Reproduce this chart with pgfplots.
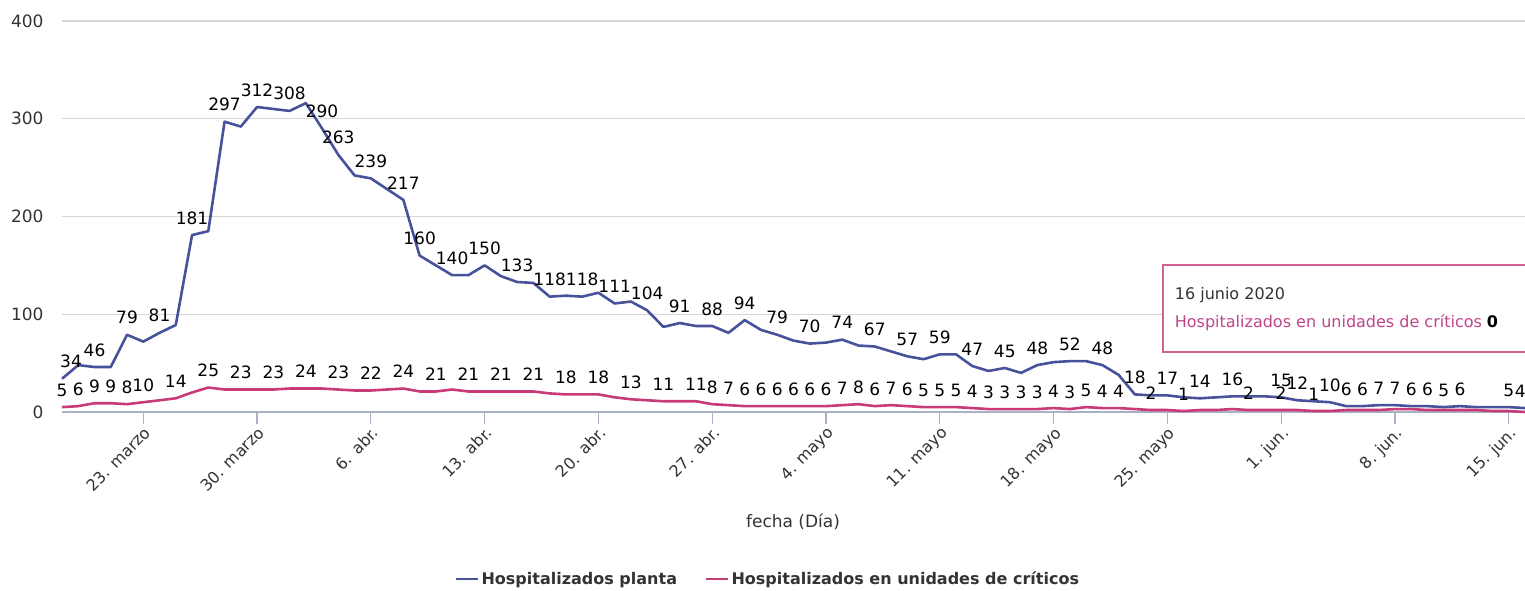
\documentclass[border=0pt]{standalone}
\usepackage{fontspec}
\setmainfont{DejaVu Sans}
\usepackage{pgfplots}
\pgfplotsset{compat=1.18}
\usepackage{pgfplotstable}

\definecolor{blueline}{HTML}{48529A}
\definecolor{pinkline}{HTML}{C93A78}
\definecolor{pinktxt}{HTML}{C0468A}
\definecolor{gridc}{HTML}{D6D6D6}
\definecolor{axisc}{HTML}{A9B1C2}
\definecolor{textc}{HTML}{333333}
\newcommand\fs[1]{\fontsize{#1}{#1}\selectfont}

\pgfplotstableread{
d v
0 34
1 48
2 46
3 46
4 79
5 72
6 81
7 89
8 181
9 185
10 297
11 292
12 312
13 310
14 308
15 316
16 290
17 263
18 242
19 239
20 228
21 217
22 160
23 150
24 140
25 140
26 150
27 139
28 133
29 132
30 118
31 119
32 118
33 122
34 111
35 113
36 104
37 87
38 91
39 88
40 88
41 81
42 94
43 84
44 79
45 73
46 70
47 71
48 74
49 68
50 67
51 62
52 57
53 54
54 59
55 59
56 47
57 42
58 45
59 40
60 48
61 51
62 52
63 52
64 48
65 38
66 18
67 17
68 17
69 15
70 14
71 15
72 16
73 16
74 16
75 15
76 12
77 11
78 10
79 6
80 6
81 7
82 7
83 6
84 6
85 5
86 6
87 5
88 5
89 5
90 4
}\planta

\pgfplotstableread{
d v
0 5
1 6
2 9
3 9
4 8
5 10
6 12
7 14
8 20
9 25
10 23
11 23
12 23
13 23
14 24
15 24
16 24
17 23
18 22
19 22
20 23
21 24
22 21
23 21
24 23
25 21
26 21
27 21
28 21
29 21
30 19
31 18
32 18
33 18
34 15
35 13
36 12
37 11
38 11
39 11
40 8
41 7
42 6
43 6
44 6
45 6
46 6
47 6
48 7
49 8
50 6
51 7
52 6
53 5
54 5
55 5
56 4
57 3
58 3
59 3
60 3
61 4
62 3
63 5
64 4
65 4
66 3
67 2
68 2
69 1
70 2
71 2
72 3
73 2
74 2
75 2
76 2
77 1
78 1
79 2
80 2
81 2
82 3
83 3
84 2
85 2
86 2
87 2
88 1
89 1
90 0
}\criticos

% labelled points, blue series
\pgfplotstableread{
d v
2 46
4 79
6 81
8 181
10 297
12 312
14 308
16 290
17 263
19 239
21 217
22 160
24 140
26 150
28 133
30 118
32 118
34 111
36 104
38 91
40 88
42 94
44 79
46 70
48 74
50 67
52 57
54 59
56 47
58 45
60 48
62 52
64 48
66 18
68 17
70 14
72 16
75 15
76 12
78 10
79 6
80 6
81 7
82 7
83 6
84 6
85 5
86 6
89 5
}\plantalab

% labelled points, pink series
\pgfplotstableread{
d v
0 5
1 6
2 9
3 9
4 8
5 10
7 14
9 25
11 23
13 23
15 24
17 23
19 22
21 24
23 21
25 21
27 21
29 21
31 18
33 18
35 13
37 11
39 11
40 8
41 7
42 6
43 6
44 6
45 6
46 6
47 6
48 7
49 8
50 6
51 7
52 6
53 5
54 5
55 5
56 4
57 3
58 3
59 3
60 3
61 4
62 3
63 5
64 4
65 4
67 2
69 1
73 2
75 2
77 1
}\criticoslab

\begin{document}
\begin{tikzpicture}
\path[use as bounding box] (0pt,0pt) rectangle (1525pt,591pt);
\begin{axis}[
  at={(62pt,179pt)}, anchor=south west,
  width=1463pt, height=391pt, scale only axis,
  xmin=0, xmax=90, ymin=0, ymax=400,
  clip=false,
  /pgf/number format/assume math mode=true,
  axis x line*=bottom, axis y line*=left,
  y axis line style={draw=none},
  x axis line style={axisc, line width=2pt, -},
  ymajorgrids, grid style={gridc, line width=1.2pt},
  ytick={0,100,200,300,400},
  ytick style={draw=none},
  yticklabel style={font=\fs{17}, text=textc, xshift=-3pt},
  xtick={5,12,19,26,33,40,47,54,61,68,75,82,89},
  xticklabels={23. marzo,30. marzo,6. abr.,13. abr.,20. abr.,27. abr.,4. mayo,11. mayo,18. mayo,25. mayo,1. jun.,8. jun.,15. jun.},
  x tick style={axisc, line width=1.2pt},
  tick align=outside, major tick length=12pt,
  xticklabel style={rotate=45, anchor=north east, font=\fs{16}, text=textc, inner sep=1pt},
  xlabel={fecha (Día)},
  xlabel style={at={(0.4997,-0.281)}, anchor=center, font=\fs{17}, text=textc},
  legend style={at={(0.4826,-0.427)}, anchor=center, draw=none, fill=none,
    legend columns=2, font=\bfseries\fs{16}, text=textc,
    /tikz/every even column/.append style={column sep=26pt}},
  legend image code/.code={\draw[#1, line width=2.5pt] (0pt,0pt) -- (22pt,0pt);},
  legend entries={Hospitalizados planta, Hospitalizados en unidades de críticos},
  lab/.style={forget plot, draw=none, mark=none, nodes near coords, point meta=explicit,
    nodes near coords style={anchor=south, inner sep=0pt, yshift=10.5pt, font=\fs{17}, text=black}},
]
\addplot[blueline, line width=2.6pt, mark=none, line join=round] table[x=d, y=v] {\planta};
\addplot[pinkline, line width=2.6pt, mark=none, line join=round] table[x=d, y=v] {\criticos};

\addplot[lab] table[x=d, y=v, meta=v] {\plantalab};
\addplot[lab] table[x=d, y=v, meta=v] {\criticoslab};
\addplot[lab, nodes near coords style={anchor=south west, xshift=-2pt}] table[x=d, y=v, meta=v] {
d v
0 34
};
\addplot[lab, nodes near coords style={anchor=south east, xshift=1pt}] table[x=d, y=v, meta=v] {
d v
90 4
};

% tooltip
\draw[pinkline!80, line width=1.6pt, fill=white] (axis cs:67.73,61.4) rectangle (axis cs:92,150.4);
\node[anchor=west, font=\fs{16}, text=textc, inner sep=0pt] at (axis cs:68.45,119.5) {16 junio 2020};
\node[anchor=west, font=\fs{16}, text=pinktxt, inner sep=0pt] at (axis cs:68.45,91.5) {Hospitalizados en unidades de críticos \textcolor{black}{\bfseries 0}};
\end{axis}
\end{tikzpicture}
\end{document}
